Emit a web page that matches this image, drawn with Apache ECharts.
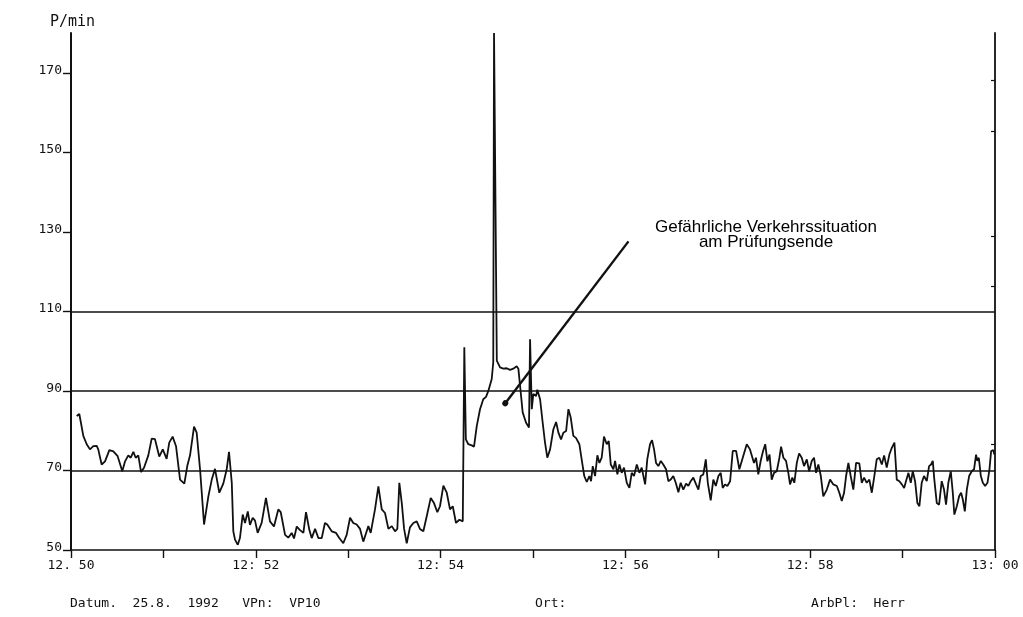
<!DOCTYPE html>
<html>
<head>
<meta charset="utf-8">
<title>Puls 25.8.1992</title>
<script src="https://cdn.jsdelivr.net/npm/echarts@6/dist/echarts.min.js"></script>
<style>
  html, body { margin: 0; padding: 0; background: #fff; }
  #main { width: 1023px; height: 617px; }
</style>
</head>
<body>
<div id="main"></div>
<script>
// Puls (P/min) ueber die Zeit, [Sekunden nach 12:50, Wert]
var pulse1250 = [[3.7,83.7],[5.4,84.2],[8.0,78.7],[10.2,76.6],[12.3,75.3],[14.5,76.1],[16.7,76.2],[17.7,75.3],[19.9,71.5],[22.1,72.3],
  [24.9,75.1],[27.5,74.8],[30.3,73.6],[33.3,69.8],[35.1,72.3],[37.2,73.8],[38.8,73.2],[40.5,74.7],[42.0,73.2],[43.7,73.8],
  [45.5,69.6],[47.4,70.7],[50.2,73.8],[52.4,78.0],[54.5,77.9],[57.3,73.5],[59.6,75.3],[62.1,72.9],[63.8,77.0],[66.0,78.5],
  [68.2,76.1],[70.8,67.7],[73.6,66.7],[75.5,71.1],[77.3,73.8],[79.9,81.0],[81.6,79.5],[83.8,70.3],[86.4,56.4],[89.2,63.5],
  [91.4,67.7],[93.5,70.4],[96.3,64.4],[98.9,66.7],[101.1,70.3],[102.6,74.7],[104.4,66.9],[105.4,54.7],[106.5,52.6],[108.3,51.3],
  [109.7,53.0],[111.5,58.9],[113.0,56.8],[114.8,59.7],[116.2,56.3],[118.0,58.1],[119.5,57.4],[121.2,54.3],[123.8,56.8],[126.6,63.1],
  [129.2,57.2],[131.8,55.9],[134.6,60.2],[136.2,59.5],[139.0,53.8],[141.1,53.1],[143.3,54.3],[144.8,52.9],[146.6,55.9],[148.7,55.0],
  [150.9,54.3],[152.6,59.5],[154.8,55.0]];
var pulse1252 = [[156.3,53.0],[158.5,55.3],[160.6,53.0],[162.8,53.0],[164.9,56.8],[166.4,56.4],[169.3,54.7],[172.1,54.3],[174.2,53.0],[176.8,51.7],
  [179.0,53.8],[181.2,58.1],[183.3,56.8],[185.5,56.4],[187.7,55.3],[189.8,52.1],[192.0,54.7],[193.1,56.0],[194.6,54.3],[197.4,60.2],
  [199.6,66.0],[201.8,60.2],[203.9,59.3],[206.1,55.3],[208.3,56.0],[210.4,54.7],[211.9,55.3],[213.2,66.9],[214.8,61.8],[216.3,55.3],
  [218.0,51.7],[220.1,55.7],[222.3,56.8],[224.5,57.2],[226.6,55.3],[228.8,54.7],[231.0,58.5],[233.6,63.1],[235.7,61.8],[237.9,59.5],
  [239.6,61.0],[241.8,66.2],[244.0,64.4],[246.1,60.2],[247.9,61.0],[250.0,56.8],[252.2,57.6],[254.4,57.2],[255.4,101.0],[256.4,77.8],
  [258.0,76.6],[260.2,76.3],[261.7,76.0],[263.5,81.2],[265.6,85.4],[267.7,87.9],[269.5,88.5],[271.0,90.0],[273.2,93.0],[274.2,97.2],
  [274.7,180],[275.7,180],[276.5,97.6],[278.6,95.9],[280.7,95.6],[282.9,95.7],[285.1,95.3],[287.2,95.6],[289.4,96.2],[290.5,95.6],
  [291.6,91.3],[293.3,84.6],[295.5,82.0],[297.4,80.8],[298.1,103.0],[299.2,85.4],[300.2,89.2],[302.0,88.7],[302.8,90.3],[304.6,87.9]];
var pulse1255 = [[306.3,82.0],[307.8,77.0],[309.3,73.2],[311.1,75.3],[313.2,80.3],[315.0,82.2],[316.5,79.5],[318.2,77.8],[319.7,79.5],[321.5,79.9],
  [323.0,85.4],[324.5,83.3],[326.2,78.7],[327.9,78.2],[330.1,76.6],[331.6,72.8],[333.3,68.6],[334.9,67.1],[336.6,68.6],[337.7,67.3],
  [338.8,71.1],[340.3,68.6],[341.8,73.8],[343.1,71.9],[344.6,73.2],[346.1,78.5],[347.9,76.6],[349.2,77.4],[350.5,71.5],[352.2,70.3],
  [353.3,72.4],[354.8,69.0],[356.1,71.5],[357.6,69.4],[359.1,70.7],[360.9,66.9],[362.6,65.6],[364.1,69.4],[365.6,68.6],[367.4,71.5],
  [369.1,69.4],[370.6,70.7],[372.8,66.5],[374.2,72.8],[376.0,76.6],[377.3,77.6],[378.6,75.3],[379.9,71.9],[381.4,71.1],[383.0,72.4],
  [384.6,71.5],[386.4,70.3],[387.9,67.3],[389.4,67.7],[391.1,68.6],[392.7,66.9],[394.4,64.5],[395.9,66.9],[397.6,65.2],[399.4,66.7],
  [400.9,66.1],[402.4,67.3],[404.1,68.2],[405.9,66.5],[407.4,65.2],[408.9,68.6],[410.6,69.0],[412.2,72.8],[413.5,66.9],[415.4,62.5],
  [417.1,67.7],[418.7,66.1],[420.4,68.6],[421.9,69.4],[423.2,65.6],[424.7,66.5],[426.2,66.1],[428.0,67.3],[429.7,74.9],[431.9,74.9],
  [434.0,70.3],[436.2,73.2],[438.8,76.6],[440.9,75.3],[443.5,71.9],[444.8,73.2],[446.3,69.0],[447.9,72.5],[449.4,74.9],[450.8,76.6],
  [452.2,72.3],[453.6,74.0]];
var pulse1257 = [[455.0,67.7],[456.5,69.4],[458.3,69.8],[460.0,73.2],[461.1,76.0],[462.6,73.2],[464.3,72.4],[465.8,69.4],[466.9,66.5],[468.4,68.2],
  [469.7,66.9],[471.3,71.9],[472.8,74.3],[474.5,73.2],[476.0,71.1],[477.8,72.8],[479.3,69.8],[481.0,72.4],[482.5,73.2],[483.8,69.4],
  [485.3,71.5],[486.9,68.6],[488.5,63.5],[490.8,65.2],[492.9,67.7],[495.0,66.5],[497.3,66.1],[498.9,64.4],[500.5,62.3],[502.0,64.4],
  [503.3,68.6],[504.8,71.9],[506.3,68.6],[508.0,65.2],[509.8,71.9],[511.9,71.8],[513.5,66.9],[515.0,68.2],[516.7,66.9],[518.4,67.7],
  [520.0,64.4],[521.5,68.2],[523.2,72.8],[524.9,73.2],[526.5,71.5],[528.0,73.8],[529.7,70.7],[531.4,74.0],[533.0,75.7],[534.7,77.0],
  [536.2,67.7],[537.9,67.3],[539.5,66.5],[541.0,65.6],[542.2,67.3],[543.8,69.4],[545.3,66.9],[546.6,69.8],[548.1,67.3],[549.6,61.8],
  [550.9,61.0],[552.4,66.9],[553.9,68.6],[555.7,67.3],[557.2,71.1],[558.5,71.5],[559.6,72.4],[560.6,67.7],[562.2,61.8],[563.7,61.4],
  [565.4,67.3],[566.9,65.2],[568.2,61.4],[569.7,66.9],[571.3,69.8],[572.6,64.4],[573.6,58.9],[575.2,61.0],[576.7,63.5],[578.0,64.4],
  [579.1,62.7],[580.4,59.7],[581.7,65.2],[583.2,68.6],[584.9,69.8],[586.4,70.3],[587.7,74.0],[588.5,72.4],[589.5,73.2],[590.8,68.6],
  [592.1,66.9],[593.6,66.1],[595.1,66.9],[596.4,70.3],[597.5,74.9],[598.9,75.1],[599.6,74.0]];

// Achsen
var minuteLabels = ['12. 50', '', '12: 52', '', '12: 54', '', '12: 56', '', '12: 58', '', '13: 00'];
var yTickValues = [50, 70, 90, 110, 130, 150, 170];
var rightTickValues = [168.1, 155.2, 129.0, 116.2, 76.6];
var limitLines = [70, 90, 110];
// Pfeil zur Anmerkung (Sekunden, P/min)
var arrowFrom = [282, 86.9];
var arrowTo = [362, 127.6];

var mono = '"DejaVu Sans Mono", monospace';
var ink = '#111';

var data = pulse1250.concat(pulse1252, pulse1255, pulse1257);

var markData = [];
for (var i = 0; i < limitLines.length; i++) {
  markData.push({ yAxis: limitLines[i], lineStyle: { color: ink, width: 1.6, type: 'solid' } });
}
markData.push([
  { coord: arrowFrom, symbol: 'circle', symbolSize: 6 },
  { coord: arrowTo, symbol: 'none' }
]);

var myChart = echarts.init(document.getElementById('main'));
var option = {
  animation: false,
  backgroundColor: '#fff',
  grid: { left: 71, right: 28, top: 33, bottom: 67 },
  xAxis: {
    type: 'value',
    min: 0,
    max: 600,
    interval: 60,
    axisLine: { lineStyle: { color: ink, width: 1.6 } },
    axisTick: { length: 8, lineStyle: { color: ink, width: 1.4 } },
    splitLine: { show: false },
    axisLabel: {
      margin: 9,
      color: ink,
      fontFamily: mono,
      fontSize: 13,
      showMinLabel: true,
      showMaxLabel: true,
      formatter: function (v) { return minuteLabels[Math.round(v / 60)]; }
    }
  },
  yAxis: [{
    type: 'value',
    min: 50,
    max: 180,
    interval: 20,
    axisLine: { show: true, lineStyle: { color: ink, width: 2 } },
    axisTick: { show: true, length: 8, customValues: yTickValues, lineStyle: { color: ink, width: 1.4 } },
    splitLine: { show: false },
    axisLabel: {
      customValues: yTickValues,
      margin: 9,
      color: ink,
      fontFamily: mono,
      fontSize: 13,
      lineHeight: 5,
      verticalAlign: 'bottom'
    }
  }, {
    type: 'value',
    position: 'right',
    min: 50,
    max: 180,
    axisLine: { show: true, lineStyle: { color: ink, width: 1.8 } },
    axisTick: { show: true, inside: true, length: 4, customValues: rightTickValues, lineStyle: { color: ink, width: 1.2 } },
    axisLabel: { show: false },
    splitLine: { show: false }
  }],
  graphic: [
    { type: 'text', x: 50, y: 22, style: { text: 'P/min', font: '15px ' + mono, fill: ink, verticalAlign: 'middle' } },
    { type: 'text', x: 766, y: 220, style: {
        text: 'Gefährliche Verkehrssituation\nam Prüfungsende',
        font: '17px "Liberation Sans", Arial, sans-serif', fill: '#000',
        align: 'center', lineHeight: 15 } },
    { type: 'text', x: 70, y: 604, style: { text: 'Datum.  25.8.  1992   VPn:  VP10', font: '13px ' + mono, fill: ink, verticalAlign: 'middle' } },
    { type: 'text', x: 535, y: 604, style: { text: 'Ort:', font: '13px ' + mono, fill: ink, verticalAlign: 'middle' } },
    { type: 'text', x: 811, y: 604, style: { text: 'ArbPl:  Herr', font: '13px ' + mono, fill: ink, verticalAlign: 'middle' } }
  ],
  series: [{
    type: 'line',
    data: data,
    showSymbol: false,
    smooth: false,
    lineStyle: { color: ink, width: 1.8 },
    markLine: {
      silent: true,
      symbol: 'none',
      label: { show: false },
      lineStyle: { color: ink, width: 2.4, type: 'solid' },
      emphasis: { disabled: true },
      data: markData
    }
  }]
};
myChart.setOption(option, true);
</script>
</body>
</html>
